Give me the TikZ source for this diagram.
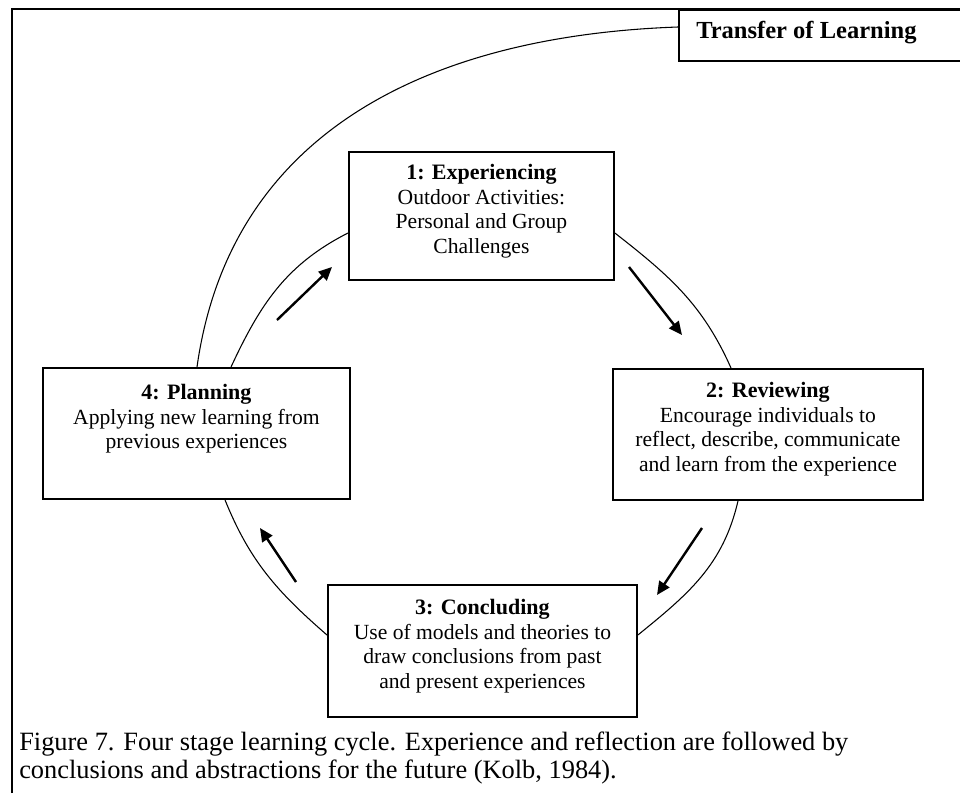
\documentclass[tikz,border=0pt]{standalone}
\usepackage{fontspec}
\setmainfont{Liberation Serif}
\usetikzlibrary{arrows.meta}
\begin{document}
\begin{tikzpicture}[x=0.75pt,y=-0.75pt,
  stagebox/.style={draw, line width=1.4pt, inner sep=0pt, anchor=north west},
  boxtext/.style={align=center, inner sep=0pt, anchor=north,
    font=\fontsize{16.2}{18.4}\selectfont},
  cyc/.style={line width=0.8pt},
  flow/.style={line width=1.8pt, -{Triangle[length=10pt,width=9pt]}},
  frame/.style={line width=1.4pt}]
\clip (0,0) rectangle (960,793);
\fill[white] (0,0) rectangle (960,793);
% outer frame
\draw[frame] (12,793) -- (12,9) -- (960,9);
% stage boxes
\node[stagebox, minimum width=198.75pt, minimum height=96pt] (b1) at (348,151) {};
\node[stagebox, minimum width=232.5pt, minimum height=98.25pt] (b2) at (612,368) {};
\node[stagebox, minimum width=231.75pt, minimum height=99pt] (b3) at (327,584) {};
\node[stagebox, minimum width=230.25pt, minimum height=98.25pt] (b4) at (42,367) {};
\node[stagebox, minimum width=226.5pt, minimum height=38.25pt] (tl) at (678,9) {};
% texts
\node[boxtext] (t1) at ([yshift=-9.75pt]b1.north)
  {{\fontsize{16.5}{18.4}\selectfont\bfseries 1: Experiencing}\\Outdoor Activities:\\Personal and Group\\Challenges};
\node[boxtext] (t2) at ([yshift=-10.5pt]b2.north)
  {{\fontsize{16.5}{18.4}\selectfont\bfseries 2: Reviewing}\\Encourage individuals to\\reflect, describe, communicate\\and learn from the experience};
\node[boxtext] (t3) at ([yshift=-11.25pt]b3.north)
  {{\fontsize{16.5}{18.4}\selectfont\bfseries 3: Concluding}\\Use of models and theories to\\draw conclusions from past\\and present experiences};
\node[boxtext] (t4) at ([yshift=-12.75pt]b4.north)
  {{\fontsize{16.5}{18.4}\selectfont\bfseries 4: Planning}\\Applying new learning from\\previous experiences};
\node[inner sep=0pt, anchor=west, font=\fontsize{18.4}{20}\selectfont\bfseries] (tt) at (696,33) {Transfer of Learning};
% caption
\node[inner sep=0pt, anchor=north west, align=left, font=\fontsize{19.8}{21}\selectfont] (cap) at (19,732)
  {Figure 7. Four stage learning cycle. Experience and reflection are followed by\\conclusions and abstractions for the future (Kolb, 1984).};
% cycle arcs
\draw[cyc] (b1.west |- 0,233) to[out=207,in=65] (231,0 |- b4.north);
\draw[cyc] (b1.east |- 0,233) to[out=322,in=114] (731,0 |- b2.north);
\draw[cyc] (738,0 |- b2.south) to[out=257,in=39] (b3.east |- 0,635);
\draw[cyc] (225,0 |- b4.south) to[out=292,in=139] (b3.west |- 0,635);
\draw[cyc] (197,0 |- b4.north) to[out=82,in=182,looseness=1.05] (tl.west |- 0,27);
% arrows
\coordinate (a1s) at (277,320); \coordinate (a1e) at (332,267);
\coordinate (a2s) at (629,267); \coordinate (a2e) at (682,335);
\coordinate (a3s) at (702,528); \coordinate (a3e) at (657,595);
\coordinate (a4s) at (296,582); \coordinate (a4e) at (260,528);
\draw[flow] (a1s) -- (a1e);
\draw[flow] (a2s) -- (a2e);
\draw[flow] (a3s) -- (a3e);
\draw[flow] (a4s) -- (a4e);
\end{tikzpicture}
\end{document}
